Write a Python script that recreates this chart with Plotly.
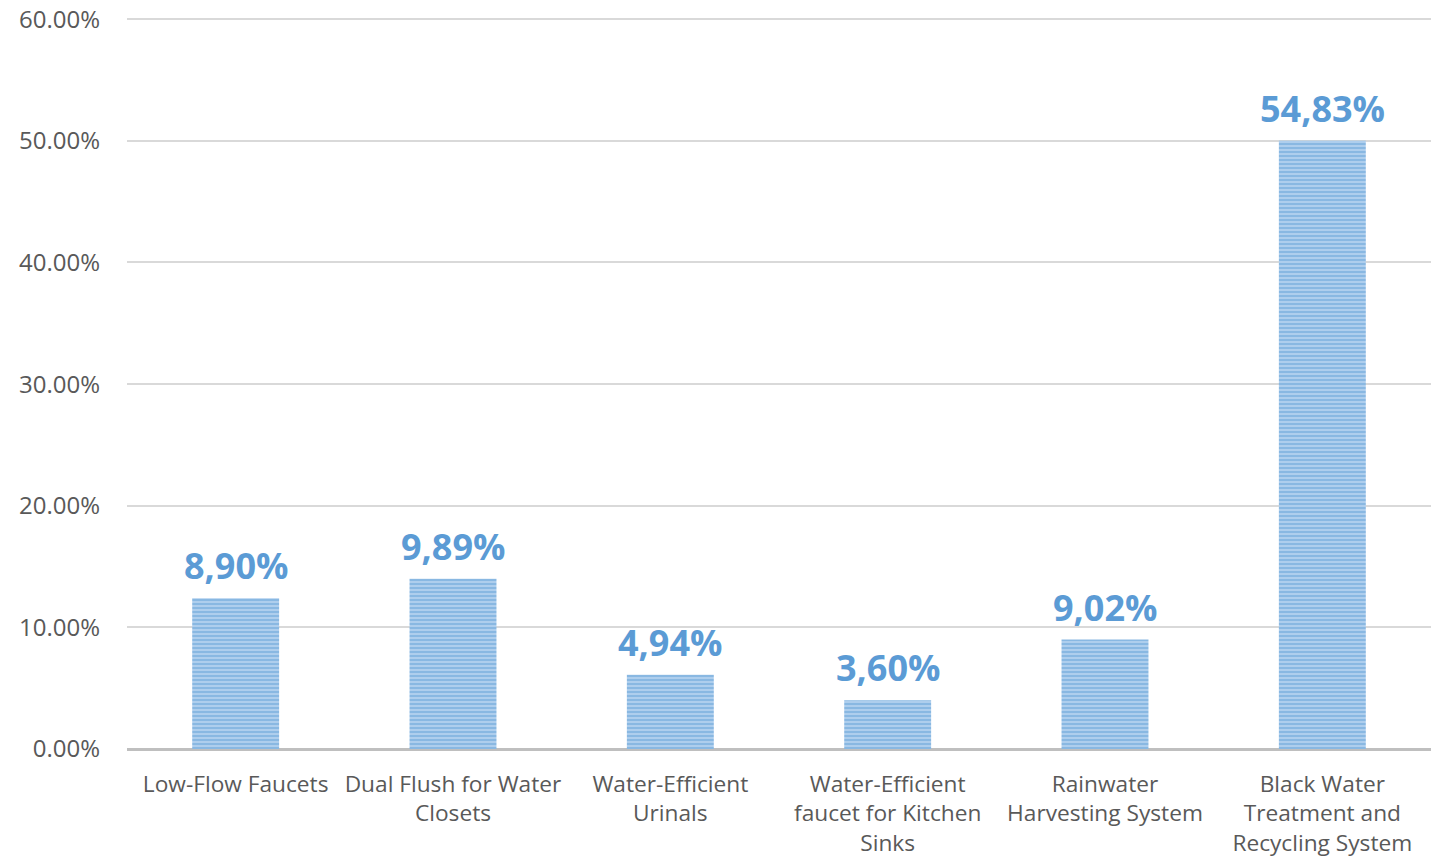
import plotly.graph_objects as go

categories = ["Low-Flow Faucets", "Dual Flush for Water<br>Closets", "Water-Efficient<br>Urinals",
              "Water-Efficient<br>faucet for Kitchen<br>Sinks", "Rainwater<br>Harvesting System",
              "Black Water<br>Treatment and<br>Recycling System"]
bar_values = [12.4, 14.0, 6.1, 4.0, 9.0, 50.0]
bar_labels = ["8,90%", "9,89%", "4,94%", "3,60%", "9,02%", "54,83%"]
y_ticks = [0, 10, 20, 30, 40, 50, 60]
y_ticktext = [f"{v:.2f}%" for v in y_ticks]

fig = go.Figure(go.Bar(
    x=categories, y=bar_values,
    marker=dict(color="#9DC3E6", line=dict(width=0),
                pattern=dict(shape="-", fgcolor="#5B9BD5", bgcolor="#B7D4EF", size=4, solidity=0.6)),
    width=0.4,
))
for cat, val, lab in zip(categories, bar_values, bar_labels):
    fig.add_annotation(x=cat, y=val, text=lab, showarrow=False, yanchor="bottom", yshift=6,
                       font=dict(family="Open Sans", size=36, color="#5B9BD5", weight="bold"))

fig.update_layout(
    width=1435, height=862,
    margin=dict(l=127, r=4, t=18, b=113),
    plot_bgcolor="white", paper_bgcolor="white",
    showlegend=False,
    font=dict(family="Open Sans", color="#595959"),
    xaxis=dict(tickfont=dict(size=22.7, color="#595959"), showline=False, ticks="",
               ticklabelstandoff=19, automargin=False),
    yaxis=dict(range=[0, 60.1], tickvals=y_ticks, ticktext=y_ticktext,
               tickfont=dict(size=24, color="#595959"), gridcolor="#D9D9D9", gridwidth=1.5,
               zeroline=True, zerolinecolor="#BFBFBF", zerolinewidth=3,
               ticklabelstandoff=26, showline=False, automargin=False,
               ticklabeloverflow="allow"),
)
fig.write_html("out.html", config={"displayModeBar": False},
               post_script="document.body.style.margin='0';document.body.style.overflow='hidden';")
